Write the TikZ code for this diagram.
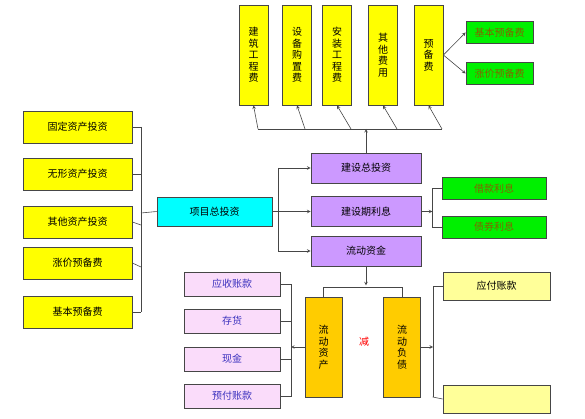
\documentclass[tikz,border=0pt]{standalone}
\usepackage{fontspec}
\setmainfont{Noto Sans CJK SC}
\usetikzlibrary{calc}

\definecolor{boxyellow}{RGB}{255,255,0}
\definecolor{boxcyan}{RGB}{0,255,255}
\definecolor{boxpurple}{RGB}{204,153,255}
\definecolor{boxgreen}{RGB}{0,240,0}
\definecolor{boxpink}{RGB}{250,220,250}
\definecolor{boxorange}{RGB}{255,204,0}
\definecolor{boxcream}{RGB}{255,255,153}
\definecolor{textolive}{RGB}{130,100,0}
\definecolor{textblue}{RGB}{60,50,190}
\definecolor{edgegray}{RGB}{70,70,70}

\begin{document}
\begin{tikzpicture}[x=1pt, y=-1pt, >=stealth, align=center,
    every node/.style={font=\fontsize{10}{11.5}\selectfont, inner sep=0pt},
    cost/.style={draw=edgegray, line width=0.8pt, minimum width=#1},
    tall/.style={cost=29, fill=boxyellow, minimum height=100},
    leftbox/.style={cost=109, fill=boxyellow, minimum height=32},
    subbox/.style={cost=#1, fill=boxgreen, text=textolive, minimum height=22},
    partbox/.style={cost=110, fill=boxpurple, minimum height=30},
    assetbox/.style={cost=96, fill=boxpink, text=textblue, minimum height=24},
    flowbox/.style={cost=37, fill=boxorange, minimum height=100},
    debtbox/.style={cost=107, fill=boxcream, minimum height=28},
    link/.style={draw=edgegray, line width=0.6pt}]
  \useasboundingbox (0,0) rectangle (585,419);

  % top row
  \node[tall] (b1) at (253.5,55) {建\\筑\\工\\程\\费};
  \node[tall] (b2) at (297,55) {设\\备\\购\\置\\费};
  \node[tall] (b3) at (337,55) {安\\装\\工\\程\\费};
  \node[tall] (b4) at (383,55) {其\\他\\费\\用};
  \node[tall] (b5) at (428.5,55) {预\\备\\费};
  \node[subbox=67] (g1) at (499.5,32.5) {基本预备费};
  \node[subbox=67] (g2) at (499.5,73.5) {涨价预备费};

  % left column
  \node[leftbox] (f1) at (77.5,127) {固定资产投资};
  \node[leftbox] (f2) at (77.5,174) {无形资产投资};
  \node[leftbox] (f3) at (77.5,222) {其他资产投资};
  \node[leftbox] (f4) at (77.5,263) {涨价预备费};
  \node[leftbox] (f5) at (77.5,312) {基本预备费};
  \node[cost=115, fill=boxcyan, minimum height=29] (total) at (214.5,211.5) {项目总投资};

  % middle
  \node[partbox] (inv) at (366,168) {建设总投资};
  \node[partbox] (int) at (366,211.5) {建设期利息};
  \node[partbox] (wc) at (366,251) {流动资金};
  \node[subbox=104] (g3) at (494,188.5) {借款利息};
  \node[subbox=104] (g4) at (494,227) {债券利息};

  % bottom
  \node[flowbox] (ca) at (323.5,347) {流\\动\\资\\产};
  \node[flowbox] (cl) at (402,347) {流\\动\\负\\债};
  \node[text=red] (minus) at (364,342) {减};
  \node[assetbox] (p1) at (232,284) {应收账款};
  \node[assetbox] (p2) at (232,321) {存货};
  \node[assetbox] (p3) at (232,359) {现金};
  \node[assetbox] (p4) at (232,396) {预付账款};
  \node[debtbox] (d1) at (496.5,286) {应付账款};
  \node[debtbox] (d2) at (496.5,399) {};

  % connectors, top
  \coordinate (tb) at (366,129);
  \draw[link] (258,129) -- (442,129);
  \draw[link,->] (258,129) -- (b1.south);
  \draw[link,->] (305,129) -- (b2.south);
  \draw[link,->] (351,129) -- (b3.south);
  \draw[link,->] (397,129) -- (b4.south);
  \draw[link,->] (442,129) -- (b5.south);
  \draw[link,->] (inv.north) -- (tb);
  \draw[link,->] (b5.east) -- (g1.west);
  \draw[link,->] (b5.east) -- (g2.west);

  % connectors, left
  \coordinate (lt) at (141,127);
  \coordinate (lm) at (141,213);
  \draw[link] (lt) -- (141,312);
  \draw[link] (f1.east) -- (f1.east -| lt);
  \draw[link] (f2.east) -- (f2.east -| lt);
  \draw[link] (f3.east) -- ($(f3.east -| lt)+(0,3)$);
  \draw[link] (f4.east) -- ($(f4.east -| lt)+(0,4)$);
  \draw[link] (f5.east) -- (f5.east -| lt);
  \draw[link] (lm) -- (total.west);

  % connectors, middle
  \draw[link] (total.east) -- ++(6,0) coordinate (rm);
  \draw[link] (inv.west -| rm) -- (wc.west -| rm);
  \draw[link,->] (inv.west -| rm) -- (inv.west);
  \draw[link,->] (int.west -| rm) -- (int.west);
  \draw[link,->] (wc.west -| rm) -- (wc.west);
  \draw[link,->] (int.east) -- ++(11,0) coordinate (im);
  \draw[link] (g3.west) -- (g3.west -| im) -- (g4.west -| im) -- (g4.west);

  % connectors, bottom
  \draw[link,->] (wc.south) -- ++(0,19);
  \draw[link] (ca.north) -- ++(0,-9) -| (cl.north);
  \coordinate (pl) at (291,284);
  \draw[link] (pl) -- (291,397);
  \draw[link,->] (ca.west) -- (ca.west -| pl);
  \foreach \p in {p1,p2,p3,p4}
    \draw[link] (\p.east) -- (\p.east -| pl);
  \coordinate (pr) at (433,286);
  \draw[link] (pr) -- (433,397);
  \draw[link,->] (cl.east) -- (cl.east -| pr);
  \draw[link] (d1.west) -- (d1.west -| pr);
  \draw[link] (d2.west) -- ++(-10,-2);
\end{tikzpicture}
\end{document}
